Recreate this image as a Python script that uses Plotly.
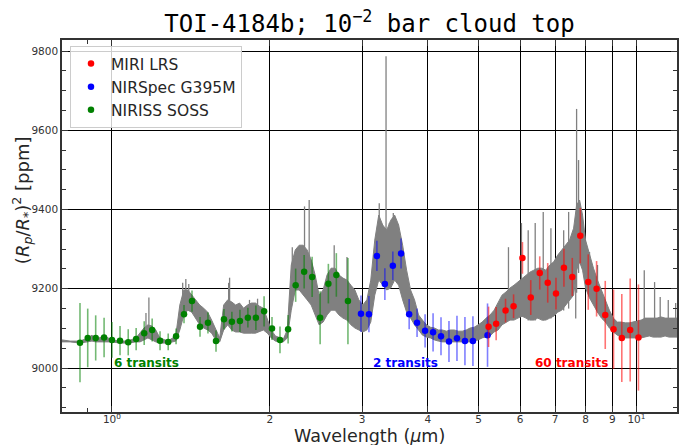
import numpy as np
import plotly.graph_objects as go

# ---------------- observed transmission spectra ----------------
niriss_wl = [0.869, 0.899, 0.931, 0.966, 1.000, 1.036, 1.074, 1.112, 1.152, 1.193,
             1.235, 1.280, 1.325, 1.372, 1.421, 1.472, 1.524, 1.579, 1.635, 1.693,
             1.754, 1.816, 1.881, 1.950, 2.019, 2.091, 2.167, 2.240, 2.325, 2.408,
             2.494, 2.586, 2.678, 2.818]
niriss_depth = [9064, 9076, 9076, 9077, 9071, 9069, 9065, 9073, 9088, 9096,
                9069, 9066, 9080, 9136, 9169, 9104, 9114, 9068, 9123, 9117,
                9119, 9127, 9127, 9143, 9100, 9071, 9098, 9209, 9243, 9230,
                9127, 9213, 9235, 9169]
niriss_err = [100, 74, 57, 50, 45, 37, 33, 28, 30, 29,
              24, 21, 20, 23, 27, 25, 27, 27, 26, 25,
              28, 25, 31, 38, 29, 34, 36, 42, 42, 51,
              67, 50, 55, 109]

nirspec_wl = [2.984, 3.090, 3.200, 3.314, 3.432, 3.558, 3.687, 3.817, 3.954, 4.095,
              4.240, 4.391, 4.548, 4.710, 4.878, 5.201]
nirspec_depth = [9137, 9136, 9283, 9212, 9258, 9289, 9136, 9114, 9094, 9090,
                 9080, 9067, 9075, 9068, 9068, 9083]
nirspec_err = [46, 46, 38, 40, 36, 38, 38, 36, 42, 48,
               48, 52, 57, 61, 63, 80]

miri_wl = [5.225, 5.402, 5.629, 5.831, 6.063, 6.288, 6.541, 6.774, 7.024, 7.274,
           7.546, 7.816, 8.094, 8.395, 8.721, 9.044, 9.378, 9.730, 10.09]
miri_depth = [9104, 9112, 9145, 9156, 9278, 9178, 9240, 9215, 9188, 9253,
              9230, 9334, 9217, 9200, 9134, 9098, 9076, 9096, 9077]
miri_err = [51, 42, 30, 30, 40, 44, 42, 50, 40, 48,
            48, 70, 70, 70, 86, 100, 111, 130, 134]

# ---------------- high-resolution model (10^-2 bar cloud top) ----------------
# lower / upper envelope of the densely sampled model spectrum
spec_wl = [0.803, 0.832, 0.869, 0.900, 0.916, 0.932, 0.966, 1.000, 1.036, 1.073,
           1.111, 1.131, 1.151, 1.171, 1.191, 1.212, 1.234, 1.278, 1.323, 1.347,
           1.371, 1.395, 1.419, 1.444, 1.470, 1.496, 1.522, 1.549, 1.577, 1.605,
           1.633, 1.662, 1.691, 1.721, 1.751, 1.782, 1.813, 1.845, 1.878, 1.911,
           1.944, 1.978, 2.013, 2.049, 2.085, 2.122, 2.159, 2.197, 2.236, 2.275,
           2.315, 2.356, 2.398, 2.440, 2.483, 2.527, 2.571, 2.617, 2.663, 2.709,
           2.757, 2.806, 2.855, 2.905, 2.956, 3.008, 3.062, 3.115, 3.170, 3.226,
           3.283, 3.341, 3.400, 3.459, 3.520, 3.583, 3.646, 3.710, 3.775, 3.842,
           3.909, 3.978, 4.048, 4.119, 4.192, 4.266, 4.341, 4.417, 4.495, 4.574,
           4.655, 4.737, 4.820, 4.905, 4.992, 5.080, 5.169, 5.260, 5.353, 5.447,
           5.543, 5.641, 5.740, 5.841, 5.944, 6.049, 6.155, 6.264, 6.374, 6.486,
           6.600, 6.717, 6.835, 6.955, 7.078, 7.203, 7.329, 7.458, 7.590, 7.690,
           7.791, 7.894, 7.998, 8.139, 8.282, 8.428, 8.576, 8.727, 8.880, 9.037,
           9.196, 9.359, 9.523, 9.691, 9.862, 10.04, 10.21, 10.39, 10.58, 10.76,
           10.95, 11.14, 11.34, 11.54, 11.95]
spec_lo = [9066, 9066, 9063, 9066, 9068, 9066, 9066, 9066, 9063, 9063,
           9066, 9066, 9071, 9076, 9071, 9066, 9063, 9063, 9068, 9096,
           9134, 9146, 9141, 9126, 9109, 9101, 9096, 9088, 9071, 9066,
           9096, 9109, 9096, 9091, 9091, 9088, 9088, 9088, 9088, 9091,
           9096, 9088, 9076, 9068, 9066, 9066, 9076, 9146, 9197, 9197,
           9184, 9172, 9159, 9134, 9109, 9116, 9134, 9146, 9146, 9134,
           9126, 9121, 9109, 9101, 9096, 9091, 9096, 9116, 9184, 9222,
           9209, 9197, 9202, 9222, 9209, 9172, 9141, 9126, 9109, 9096,
           9083, 9078, 9076, 9071, 9068, 9066, 9066, 9066, 9066, 9066,
           9066, 9066, 9066, 9068, 9071, 9076, 9078, 9081, 9091, 9096,
           9109, 9116, 9121, 9121, 9126, 9131, 9126, 9121, 9121, 9126,
           9121, 9121, 9126, 9131, 9141, 9146, 9159, 9172, 9184, 9247,
           9268, 9247, 9202, 9177, 9159, 9141, 9126, 9116, 9101, 9091,
           9083, 9078, 9076, 9076, 9076, 9076, 9076, 9078, 9081, 9078,
           9078, 9078, 9081, 9078, 9078]
spec_hi = [9071, 9068, 9068, 9076, 9083, 9073, 9081, 9071, 9068, 9068,
           9076, 9088, 9101, 9109, 9106, 9096, 9076, 9068, 9081, 9159,
           9197, 9197, 9184, 9172, 9159, 9151, 9141, 9121, 9096, 9076,
           9159, 9172, 9167, 9159, 9164, 9151, 9159, 9164, 9164, 9156,
           9151, 9121, 9096, 9081, 9076, 9073, 9096, 9260, 9298, 9310,
           9310, 9298, 9273, 9235, 9184, 9197, 9235, 9252, 9252, 9235,
           9227, 9222, 9209, 9197, 9172, 9159, 9172, 9222, 9323, 9386,
           9361, 9348, 9373, 9386, 9361, 9310, 9247, 9197, 9172, 9134,
           9121, 9109, 9103, 9101, 9096, 9096, 9093, 9096, 9096, 9093,
           9093, 9096, 9101, 9103, 9109, 9116, 9126, 9134, 9146, 9167,
           9184, 9192, 9202, 9209, 9217, 9227, 9235, 9242, 9247, 9252,
           9252, 9247, 9260, 9268, 9285, 9298, 9310, 9323, 9353, 9411,
           9424, 9386, 9323, 9285, 9252, 9222, 9197, 9172, 9146, 9126,
           9116, 9116, 9114, 9114, 9116, 9119, 9121, 9126, 9126, 9126,
           9126, 9129, 9126, 9126, 9126]

# narrow absorption features rising above the envelope
spike_wl = [1.161, 1.176, 1.364, 1.383, 1.401, 1.669, 1.676, 1.829, 1.895, 2.207,
            2.329, 2.377, 2.653, 2.806, 3.233, 3.331, 3.380, 3.439, 5.702, 6.036,
            6.218, 6.412, 6.642, 6.870, 7.266, 7.426, 7.660, 7.690, 7.757, 8.139,
            8.430, 10.35, 10.83, 11.10, 11.50, 11.88]
spike_base = [9080, 9080, 9140, 9140, 9150, 9110, 9110, 9100, 9100, 9180,
              9190, 9190, 9150, 9130, 9230, 9200, 9200, 9220, 9120, 9130,
              9120, 9120, 9120, 9125, 9145, 9150, 9125, 9190, 9240, 9180,
              9140, 9080, 9080, 9080, 9080, 9080]
spike_top = [9139, 9178, 9215, 9225, 9212, 9215, 9228, 9172, 9175, 9305,
             9408, 9424, 9310, 9280, 9416, 9787, 9366, 9391, 9305, 9366,
             9348, 9366, 9394, 9353, 9348, 9394, 9260, 9654, 9525, 9293,
             9260, 9247, 9217, 9179, 9172, 9164]

xtick_vals = [1, 2, 3, 4, 5, 6, 7, 8, 9, 10]
xtick_text = ["10<sup>0</sup>", "2", "3", "4", "5", "6", "7", "8", "9", "10<sup>1</sup>"]
ytick_vals = [9000, 9200, 9400, 9600, 9800]

GREY = "#808080"
FONT = "DejaVu Sans"

fig = go.Figure()

# model envelope as a filled band
fig.add_trace(go.Scatter(
    x=spec_wl + spec_wl[::-1], y=spec_hi + spec_lo[::-1],
    mode="lines", fill="toself", fillcolor=GREY,
    line=dict(color=GREY, width=1), hoverinfo="skip", showlegend=False))

# narrow lines of the model
sx, sy = [], []
for w, b, t in zip(spike_wl, spike_base, spike_top):
    sx += [w, w, None]
    sy += [b, t, None]
fig.add_trace(go.Scatter(x=sx, y=sy, mode="lines",
                         line=dict(color=GREY, width=1.3),
                         hoverinfo="skip", showlegend=False))


def add_instrument(wl, depth, err, color, errcolor, name, rank):
    fig.add_trace(go.Scatter(
        x=wl, y=depth, mode="markers", name=name, legendrank=rank,
        marker=dict(color=color, size=6.5),
        error_y=dict(type="data", array=err, color=errcolor,
                     thickness=1.6, width=0)))


add_instrument(niriss_wl, niriss_depth, niriss_err, "#008000",
               "rgba(0,128,0,0.55)", "NIRISS SOSS", 3)
add_instrument(nirspec_wl, nirspec_depth, nirspec_err, "#0000ff",
               "rgba(0,0,255,0.5)", "NIRSpec G395M", 2)
add_instrument(miri_wl, miri_depth, miri_err, "#ff0000",
               "rgba(255,0,0,0.55)", "MIRI LRS", 1)

fig.update_layout(
    width=680, height=445,
    margin=dict(l=62, r=1, t=40, b=33),
    plot_bgcolor="white", paper_bgcolor="white",
    font=dict(family=FONT, color="#262626"),
    title=dict(text="TOI-4184b; 10<sup>−2</sup> bar cloud top",
               font=dict(family="DejaVu Sans Mono", size=24, color="black"),
               x=0.5, xref="paper", xanchor="center",
               y=1 - 24 / 445, yref="container", yanchor="middle"),
    legend=dict(x=0.013, y=0.984, xanchor="left", yanchor="top",
                bgcolor="rgba(255,255,255,0.8)", bordercolor="#cccccc",
                borderwidth=1, font=dict(size=15.5, color="#262626"),
                tracegroupgap=0),
    showlegend=True,
)

fig.update_xaxes(
    type="log", range=[np.log10(0.803), np.log10(11.95)],
    tickmode="array", tickvals=xtick_vals, ticktext=xtick_text,
    tickfont=dict(size=10.5, color="#333333"), ticklabelstandoff=-3,
    showgrid=True, gridcolor="black", gridwidth=1,
    ticks="inside", ticklen=6, tickwidth=1, tickcolor="#333333",
    showline=True, linecolor="#333333", linewidth=1.5, mirror="ticks",
    zeroline=False,
    minor=dict(tickmode="array", tickvals=[0.9], ticks="inside",
               ticklen=4, tickcolor="#333333", showgrid=False),
)

fig.update_yaxes(
    range=[8889, 9828], tickmode="array", tickvals=ytick_vals,
    ticktext=[str(v) for v in ytick_vals],
    tickfont=dict(size=10.5, color="#333333"),
    showgrid=True, gridcolor="black", gridwidth=1,
    ticks="inside", ticklen=6, tickwidth=1, tickcolor="#333333",
    showline=True, linecolor="#333333", linewidth=1.5, mirror="ticks",
    zeroline=False,
    minor=dict(dtick=50, tick0=9000, ticks="inside", ticklen=4,
               tickcolor="#333333", showgrid=False),
)

# axis labels
fig.add_annotation(text="Wavelength (<i>μ</i>m)", xref="paper", yref="paper",
                   x=0.5, y=-(436 - 412) / 372, xanchor="center", yanchor="middle",
                   showarrow=False, font=dict(size=17.5, color="#262626"))
fig.add_annotation(text="(<i>R<sub>p</sub></i>/<i>R</i><sub>*</sub>)<sup>2</sup> [ppm]",
                   xref="paper", yref="paper", x=(22 - 62) / 617, y=(412 - 200) / 372,
                   xanchor="center", yanchor="middle", textangle=-90,
                   showarrow=False, font=dict(size=18, color="#262626"))

# number of transits per instrument
for label, xpos, color in [("6 transits", 1.0, "#008000"),
                           ("2 transits", 3.12, "#0000ff"),
                           ("60 transits", 6.34, "#ff0000")]:
    fig.add_annotation(text=f"<b>{label}</b>", x=np.log10(xpos), y=9013,
                       xref="x", yref="y", xanchor="left", yanchor="middle",
                       showarrow=False, font=dict(size=12, color=color))

fig.write_html("out.html")
